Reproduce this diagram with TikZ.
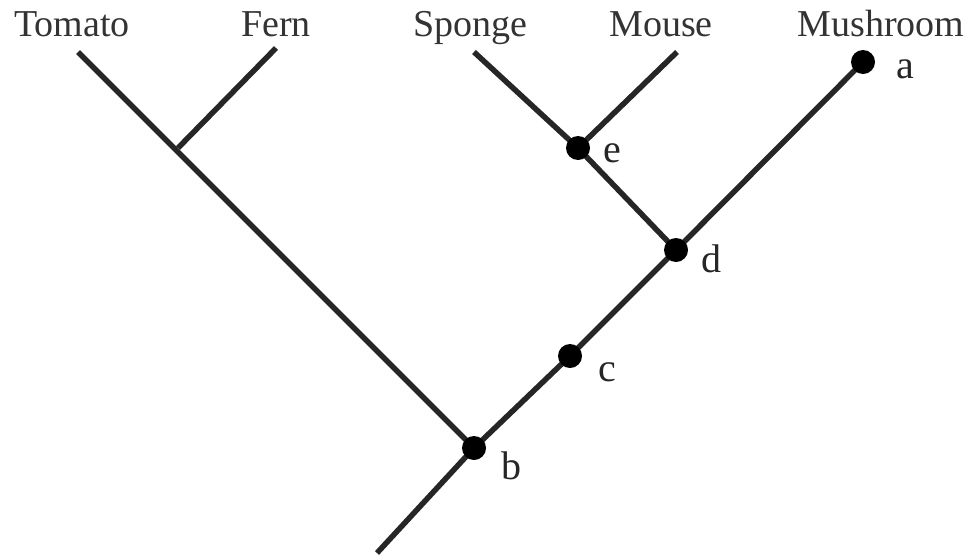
\documentclass[tikz,border=0pt]{standalone}
\usepackage{fontspec}
\setmainfont{Liberation Serif}
\begin{document}
\begin{tikzpicture}[x=1pt,y=-1pt,
  branch/.style={line width=5.5pt,line cap=butt,color=black!85},
  dot/.style={circle,fill=black,inner sep=0pt,minimum size=24pt},
  taxon/.style={anchor=base,font=\fontsize{38}{40}\selectfont,inner sep=0pt,text=black!80},
  lbl/.style={anchor=base,font=\fontsize{40}{42}\selectfont,inner sep=0pt,text=black!85}]
\useasboundingbox (0,0) rectangle (971,557);
% coordinates
\coordinate (root) at (377,553);
\coordinate (tom) at (78,52);
\coordinate (fj) at (178,148);
\coordinate (fern) at (276,48);
\coordinate (spo) at (474,52);
\coordinate (mou) at (677,52);
% branches
\draw[branch] (root) -- (474,448) coordinate (b) -- (570,356) coordinate (c) -- (676,250) coordinate (d) -- (863,62) coordinate (a);
\draw[branch] (b) -- (tom);
\draw[branch] (fj) -- (fern);
\draw[branch] (d) -- (578,148) coordinate (e) -- (spo);
\draw[branch] (e) -- (mou);
% dots
\node[dot] (na) at (a) {};
\node[dot] (nb) at (b) {};
\node[dot] (nc) at (c) {};
\node[dot] (nd) at (d) {};
\node[dot] (ne) at (e) {};
% letters
\node[lbl] (la) at (905,78) {a};
\node[lbl] (lb) at (511,479) {b};
\node[lbl] (lc) at (607,381) {c};
\node[lbl] (ld) at (711,272) {d};
\node[lbl] (le) at (612,162) {e};
% taxa
\node[taxon] (tTomato) at (72,36) {Tomato};
\node[taxon] (tFern) at (276,36) {Fern};
\node[taxon] (tSponge) at (470,36) {Sponge};
\node[taxon] (tMouse) at (661,36) {Mouse};
\node[taxon] (tMushroom) at (881,36) {Mushroom};
\end{tikzpicture}
\end{document}
